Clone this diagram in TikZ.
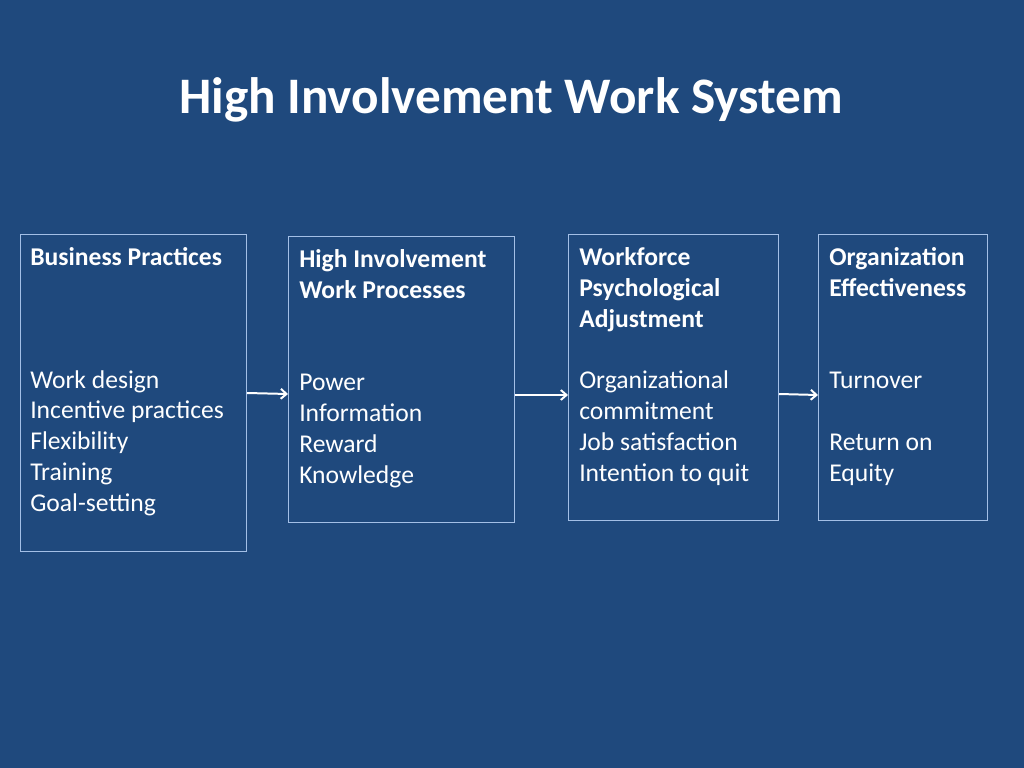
\documentclass[tikz,border=0pt]{standalone}
\usepackage{fontspec}
\setmainfont{Carlito}
\usetikzlibrary{arrows.meta,positioning}
\usepackage{xcolor}
\definecolor{slideblue}{HTML}{1F497D}
\definecolor{frameblue}{HTML}{A3BFE6}
\newlength\unitpx
\setlength\unitpx{0.703125pt}

\begin{document}
\begin{tikzpicture}[x=\unitpx,y=-\unitpx,
  panel/.style={draw=frameblue, line width=0.7pt, inner sep=0pt, anchor=north west},
  panetext/.style={text=white, anchor=base west, inner sep=0pt, align=left,
    font=\fontsize{18}{21.6}\selectfont},
  flow/.style={draw=white, line width=1.4pt, -{Straight Barb[length=4pt,width=7pt]}}]
\newcommand*{\boxtop}{234}
\fill[slideblue] (0,0) rectangle (1024,768);
\useasboundingbox (0,0) rectangle (1024,768);

% title
\node[text=white, anchor=base, inner sep=0pt, font=\fontsize{36}{43}\selectfont\bfseries]
  (title) at (511,114) {High Involvement Work System};

% the four panels
\node[panel, minimum width=226\unitpx, minimum height=317\unitpx] (bp) at (20,\boxtop) {};
\node[panel, minimum width=226\unitpx, minimum height=286\unitpx] (hp) at (288,236) {};
\node[panel, minimum width=210\unitpx, minimum height=286\unitpx] (wf) at (568,\boxtop) {};
\node[panel, minimum width=169\unitpx, minimum height=286\unitpx] (oe) at (818,\boxtop) {};

% panel texts (placed at the baseline of their last line)
\node[panetext] (bptext) at (30,511) {\textbf{Business Practices}\\ ~\\ ~\\ ~\\
  Work design\\ Incentive practices\\ Flexibility\\ Training\\ Goal-setting};
\node[panetext] (hptext) at (299,483) {\textbf{High Involvement}\\ \textbf{Work Processes}\\ ~\\ ~\\
  Power\\ Information\\ Reward\\ Knowledge};
\node[panetext] (wftext) at (579,481) {\textbf{Workforce}\\ \textbf{Psychological}\\ \textbf{Adjustment}\\ ~\\
  Organizational\\ commitment\\ Job satisfaction\\ Intention to quit};
\node[panetext] (oetext) at (829,481) {\textbf{Organization}\\ \textbf{Effectiveness}\\ ~\\ ~\\
  Turnover\\ ~\\ Return on\\ Equity};

% arrows between panels
\draw[flow] (bp.east) -- (hp.west |- 0,394);
\draw[flow] (hp.east |- 0,395) -- (wf.west |- 0,395);
\draw[flow] (wf.east |- 0,394) -- (oe.west |- 0,395);
\end{tikzpicture}
\end{document}
